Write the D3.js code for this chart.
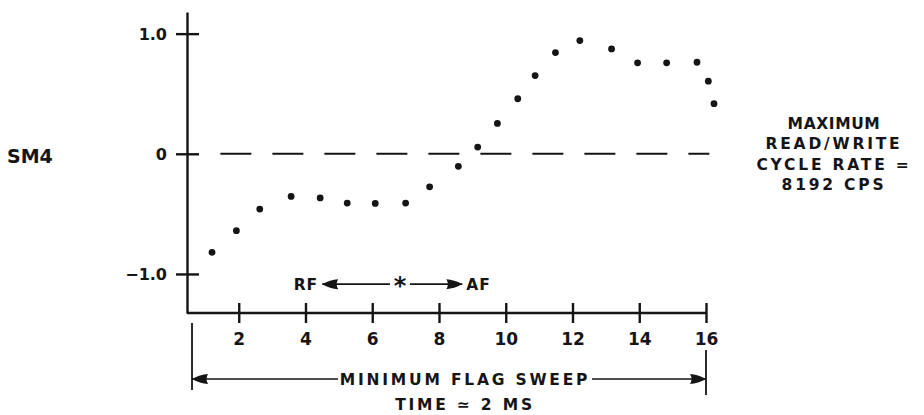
<!DOCTYPE html>
<html>
<head>
<meta charset="utf-8">
<script src="https://cdn.jsdelivr.net/npm/d3@7"></script>
<style>
  body { margin: 0; background: #fff; }
  svg { display: block; }
  text { font-family: "DejaVu Sans", sans-serif; font-weight: bold; fill: #151515; }
  .axis path, .axis line { stroke: #151515; stroke-width: 2.4; }
  .axis text { font-size: 16px; }
  .note { font-size: 15.5px; letter-spacing: 2.8px; }
</style>
</head>
<body>
<svg id="chart"></svg>
<script>
// flag position (x) and SM4 output (y)
var flagPos = [1.20, 1.93, 2.63, 3.57, 4.44, 5.25, 6.09, 7.00, 7.72, 8.58, 9.16,
               9.75, 10.36, 10.88, 11.49, 12.22, 13.17, 13.95, 14.82, 15.73, 16.07, 16.24];
var sm4Out  = [-0.82, -0.64, -0.46, -0.355, -0.367, -0.41, -0.413, -0.41, -0.275, -0.104, 0.056,
               0.253, 0.458, 0.651, 0.842, 0.942, 0.873, 0.757, 0.757, 0.762, 0.604, 0.417];

var xTicks = [2, 4, 6, 8, 10, 12, 14, 16];
var yTicks = [-1, 0, 1];
var yTickLabels = ['\u22121.0', '0', '1.0'];

var zeroLine = [1.45, 16.1];            // extent of the dashed zero line
var rfAf = { y: -1.085, left: 4.5, star: 6.83, right: 8.7 };
var sweep = [0.6, 16];                  // minimum flag sweep bracket
var seriesName = 'SM4';
var rateNote = ['MAXIMUM', 'READ/WRITE', 'CYCLE RATE =', '8192 CPS'];
var sweepNote = ['MINIMUM FLAG SWEEP', 'TIME \u2243 2 MS'];

var W = 924, H = 415;
var margin = {top: 12, left: 187},
    width = 519,
    height = 301;

var svg = d3.select('#chart').attr('width', W).attr('height', H);

var defs = svg.append('defs');
defs.append('marker')
    .attr('id', 'head')
    .attr('viewBox', '0 -6 16 12')
    .attr('refX', 16).attr('refY', 0)
    .attr('markerWidth', 16).attr('markerHeight', 12)
    .attr('markerUnits', 'userSpaceOnUse')
    .attr('orient', 'auto')
  .append('path')
    .attr('d', 'M0,-5 Q8,-4.6 16,0 Q8,4.6 0,5 Q3,0 0,-5 Z')
    .attr('fill', '#151515');

var g = svg.append('g').attr('transform', 'translate(' + margin.left + ',' + margin.top + ')');

var x = d3.scaleLinear().domain([0.45, 16]).range([0, width]);
var y = d3.scaleLinear().domain([-1.325, 1.18]).range([height, 0]);

// dashed zero line
g.append('line')
    .attr('x1', x(zeroLine[0])).attr('x2', x(zeroLine[1]))
    .attr('y1', y(0)).attr('y2', y(0))
    .attr('stroke', '#151515').attr('stroke-width', 2)
    .attr('stroke-dasharray', '31,21');

// axes, ticks cross the axis line like the drawing
var yAxis = d3.axisLeft(y).tickValues(yTicks).tickSizeOuter(0).tickSizeInner(11).tickPadding(9)
    .tickFormat(function(d, i) { return yTickLabels[i]; });
var xAxis = d3.axisBottom(x).tickValues(xTicks).tickSizeOuter(0).tickSizeInner(10).tickPadding(6);

var ya = g.append('g').attr('class', 'axis').call(yAxis);
ya.selectAll('.tick line').attr('x1', 12);
ya.selectAll('text').attr('dy', '0.36em');

var xa = g.append('g').attr('class', 'axis')
    .attr('transform', 'translate(0,' + height + ')').call(xAxis);
xa.selectAll('.tick line').attr('y1', -10);
xa.selectAll('.tick text').attr('dy', '0.95em').style('font-size', '17px');
xa.select('.domain').attr('d', 'M0,0H' + x(16));

// points
g.selectAll('.pt')
    .data(flagPos)
    .enter().append('circle')
    .attr('class', 'pt')
    .attr('cx', function(d) { return x(d); })
    .attr('cy', function(d, i) { return y(sm4Out[i]); })
    .attr('r', 3.4)
    .attr('fill', '#151515');

// RF <-- * --> AF
var ay = y(rfAf.y);
g.append('line')
    .attr('x1', x(rfAf.star) - 10).attr('x2', x(rfAf.left))
    .attr('y1', ay).attr('y2', ay)
    .attr('stroke', '#151515').attr('stroke-width', 1.6)
    .attr('marker-end', 'url(#head)');
g.append('line')
    .attr('x1', x(rfAf.star) + 10).attr('x2', x(rfAf.right))
    .attr('y1', ay).attr('y2', ay)
    .attr('stroke', '#151515').attr('stroke-width', 1.6)
    .attr('marker-end', 'url(#head)');
g.append('text').attr('class', 'note')
    .attr('x', x(rfAf.left) - 4).attr('y', ay).attr('dy', '0.36em')
    .attr('text-anchor', 'end').style('letter-spacing', '1px').text('RF');
g.append('text')
    .attr('x', x(rfAf.star)).attr('y', ay).attr('dy', '0.42em')
    .attr('text-anchor', 'middle').style('font-size', '24px').text('*');
g.append('text').attr('class', 'note')
    .attr('x', x(rfAf.right) + 4).attr('y', ay).attr('dy', '0.36em')
    .style('letter-spacing', '1px').text('AF');

// sweep bracket below the axis
var sx0 = x(sweep[0]), sx1 = x(sweep[1]), sy = height + 66;
var textMid = (sx0 + sx1) / 2 + 16;
g.append('line').attr('x1', sx0).attr('x2', sx0).attr('y1', height + 10).attr('y2', height + 77)
    .attr('stroke', '#151515').attr('stroke-width', 1.8);
g.append('line').attr('x1', sx1).attr('x2', sx1).attr('y1', height + 37).attr('y2', height + 82)
    .attr('stroke', '#151515').attr('stroke-width', 1.8);
g.append('line').attr('x1', textMid - 127).attr('x2', sx0).attr('y1', sy).attr('y2', sy)
    .attr('stroke', '#151515').attr('stroke-width', 1.6).attr('marker-end', 'url(#head)');
g.append('line').attr('x1', textMid + 127).attr('x2', sx1).attr('y1', sy).attr('y2', sy)
    .attr('stroke', '#151515').attr('stroke-width', 1.6).attr('marker-end', 'url(#head)');
g.selectAll('.sweepNote')
    .data(sweepNote)
    .enter().append('text')
    .attr('class', 'note sweepNote')
    .attr('x', textMid).attr('y', function(d, i) { return sy + 6 + i * 25; })
    .attr('text-anchor', 'middle')
    .text(function(d) { return d; });

// left series label
svg.append('text')
    .attr('x', 7).attr('y', margin.top + y(0) + 9)
    .style('font-size', '19px')
    .text(seriesName);

// right note
svg.selectAll('.rateNote')
    .data(rateNote)
    .enter().append('text')
    .attr('class', 'note rateNote')
    .attr('x', 834).attr('y', function(d, i) { return 129 + i * 20.3; })
    .attr('text-anchor', 'middle')
    .style('letter-spacing', function(d, i) { return i === 0 ? '0.6px' : null; })
    .text(function(d) { return d; });
</script>
</body>
</html>
